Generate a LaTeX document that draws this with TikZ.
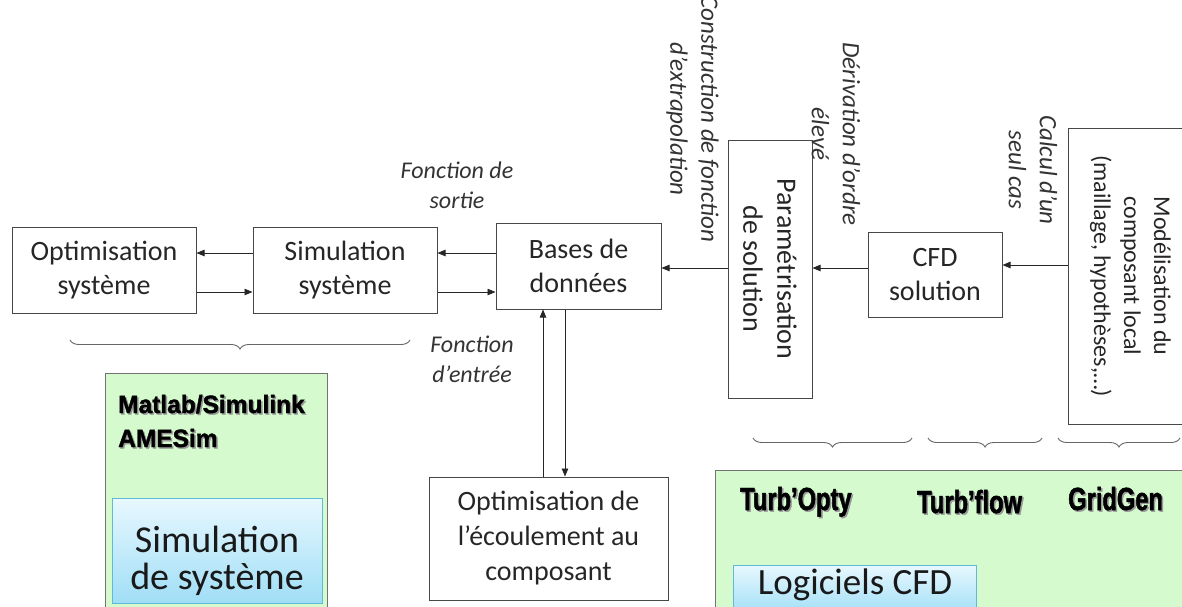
\documentclass[tikz,border=0pt]{standalone}
\usepackage{fontspec}
\setmainfont{Carlito}
\newfontfamily\impA[FakeStretch=0.98,FakeBold=1.5]{Liberation Sans}
\newfontfamily\impB[FakeStretch=0.74,FakeBold=1.5]{Liberation Sans}
\usetikzlibrary{arrows.meta,decorations.pathreplacing}
\definecolor{greenbg}{RGB}{212,250,206}
\definecolor{blueT}{RGB}{232,248,255}
\definecolor{blueB}{RGB}{160,222,246}
\definecolor{blueE}{RGB}{95,185,215}
\tikzset{
  box/.style={draw=black!72, line width=1pt, align=center, inner sep=2pt,
    font=\fontsize{28}{34}\selectfont, text=black!85},
  lab/.style={align=center, font=\fontsize{24}{30}\selectfont\itshape, text=black!80, inner sep=0pt},
  rlab/.style={lab, rotate=-90, font=\fontsize{25}{31}\selectfont\itshape},
  arr/.style={draw=black!85, line width=0.8pt, -{Triangle[length=8pt,width=6.5pt]}},
  brc/.style={decorate, decoration={brace, amplitude=9pt}, draw=black!60, line width=0.9pt},
  tagA/.style={font=\fontsize{25}{30}\selectfont\impA\bfseries, inner sep=0pt, anchor=base west},
  tagB/.style={font=\fontsize{32}{36}\selectfont\impB\bfseries, inner sep=0pt, anchor=base west},
  big/.style={font=\fontsize{38}{37}\selectfont, align=center, inner sep=0pt, text=black!90}
}
\begin{document}
\begin{tikzpicture}[x=1pt,y=-1pt]
\useasboundingbox (0,0) rectangle (1182,606);
\clip (0,0) rectangle (1182,606);

% main boxes
\node[box, minimum width=184pt, minimum height=86pt] (optsys) at (104,270) {Optimisation\\système};
\node[box, minimum width=184pt, minimum height=86pt] (simsys) at (345,270) {Simulation\\système};
\node[box, minimum width=165pt, minimum height=86pt] (bdd) at (578.5,266) {Bases de\\données};
\node[box, minimum width=258pt, minimum height=84pt, rotate=-90] (param) at (770,269) {Paramétrisation\\de solution};
\node[box, minimum width=134pt, minimum height=85pt] (cfd) at (935,274.5) {CFD\\solution};
\node[box, minimum width=296pt, minimum height=125pt, rotate=-90, font=\fontsize{24}{30}\selectfont] (model) at (1130.5,276) {Modélisation du\\composant local\\(maillage, hypothèses,…)};
\node[box, minimum width=239pt, minimum height=123pt, font=\fontsize{28}{35}\selectfont] (optec) at (548.5,538.5) {Optimisation de\\l’écoulement au\\composant};

% arrow rows
\coordinate (r1) at (0,253);
\coordinate (r2) at (0,292);
\coordinate (r3) at (0,268);
\coordinate (r4) at (0,265);
\coordinate (c1) at (543,0);
\coordinate (c2) at (565,0);
\draw[arr] (simsys.west |- r1) -- (optsys.east |- r1);
\draw[arr] (optsys.east |- r2) -- (simsys.west |- r2);
\draw[arr] (bdd.west |- r1) -- (simsys.east |- r1);
\draw[arr] (simsys.east |- r2) -- (bdd.west |- r2);
\draw[arr] (param.south |- r3) -- (bdd.east |- r3);
\draw[arr] (cfd.west |- r3) -- (param.north |- r3);
\draw[arr] (model.south |- r4) -- (cfd.east |- r4);
\draw[arr] (optec.north -| c1) -- (bdd.south -| c1);
\draw[arr] (bdd.south -| c2) -- (optec.north -| c2);

% labels
\node[lab] (lsortie) at (457,185) {Fonction de\\sortie};
\node[lab] (lentree) at (472,359) {Fonction\\d’entrée};
\node[rlab] (lconstr) at (692.5,119) {Construction de fonction\\d’extrapolation};
\node[rlab] (lderiv) at (836,134) {Dérivation d’ordre\\élevé};
\node[rlab] (lcalc) at (1033,170) {Calcul d’un\\seul cas};

% braces
\draw[brc] (410,340) -- (70,340);
\draw[brc] (912,438) -- (753,438);
\draw[brc] (1042,438) -- (928,438);
\draw[brc] (1180,438) -- (1058,438);

% left green panel
\draw[draw=black!55, fill=greenbg, line width=1pt] (105,373) rectangle (327,620);
\node[tagA, text=black!40] at (119.5,414.5) {Matlab/Simulink};
\node[tagA] (tmatlab) at (118,413) {Matlab/Simulink};
\node[tagA, text=black!40] at (119.5,448.5) {AMESim};
\node[tagA] (tames) at (118,447) {AMESim};
\shade[top color=blueT, bottom color=blueB] (112,498) rectangle (322,603);
\draw[draw=blueE, line width=1pt] (112,498) rectangle (322,603);
\node[big] (tsim) at (217,561) {Simulation\\de système};

% right green panel
\draw[draw=black!55, fill=greenbg, line width=1pt] (715,470) rectangle (1200,620);
\node[tagB, text=black!40] at (741.5,511.5) {Turb’Opty};
\node[tagB] (tto) at (740,510) {Turb’Opty};
\node[tagB, text=black!40] at (918.5,514.5) {Turb’flow};
\node[tagB] (ttf) at (917,513) {Turb’flow};
\node[tagB, text=black!40] at (1069.5,511.5) {GridGen};
\node[tagB] (tgg) at (1068,510) {GridGen};
\shade[top color=blueT, bottom color=blueB] (733,565) rectangle (976,615);
\draw[draw=blueE, line width=1pt] (733,565) rectangle (976,615);
\node[big, font=\fontsize{37}{37}\selectfont] (tcfd) at (855,585) {Logiciels CFD};
\end{tikzpicture}
\end{document}
